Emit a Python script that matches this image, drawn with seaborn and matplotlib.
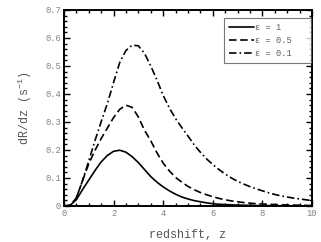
import numpy as np
import pandas as pd
import matplotlib
matplotlib.use("Agg")
import matplotlib.pyplot as plt
from matplotlib.ticker import MultipleLocator, FuncFormatter
import seaborn as sns

# redshift grid and dR/dz values
z = [0.0, 0.25, 0.5, 0.75, 1.0, 1.25, 1.5, 1.75, 2.0, 2.25, 2.5, 2.75, 3.0,
     3.25, 3.5, 3.75, 4.0, 4.25, 4.5, 4.75, 5.0, 5.25, 5.5, 5.75, 6.0, 6.25,
     6.5, 6.75, 7.0, 7.25, 7.5, 7.75, 8.0, 8.25, 8.5, 8.75, 9.0, 9.25, 9.5,
     9.75, 10.0]
rate_eps1 = [0.0, 0.002, 0.022, 0.058, 0.092, 0.126, 0.157, 0.18, 0.195,
             0.199, 0.192, 0.176, 0.155, 0.13, 0.105, 0.085, 0.068, 0.054,
             0.042, 0.032, 0.025, 0.019, 0.015, 0.011, 0.008, 0.006, 0.005,
             0.004, 0.003, 0.0025, 0.002, 0.0015, 0.0012, 0.001, 0.0008,
             0.0007, 0.0006, 0.0005, 0.0004, 0.0003, 0.0002]
rate_eps05 = [0.0, 0.002, 0.028, 0.09, 0.15, 0.198, 0.24, 0.278, 0.315,
              0.345, 0.36, 0.352, 0.318, 0.27, 0.233, 0.19, 0.153, 0.125,
              0.102, 0.085, 0.07, 0.058, 0.048, 0.04, 0.033, 0.027, 0.022,
              0.018, 0.015, 0.012, 0.01, 0.008, 0.007, 0.006, 0.005, 0.004,
              0.0035, 0.003, 0.0025, 0.002, 0.0015]
rate_eps01 = [0.0, 0.002, 0.028, 0.09, 0.16, 0.232, 0.3, 0.365, 0.44,
              0.512, 0.555, 0.574, 0.572, 0.545, 0.5, 0.45, 0.395, 0.35,
              0.312, 0.28, 0.25, 0.218, 0.192, 0.168, 0.148, 0.13, 0.114,
              0.1, 0.088, 0.078, 0.069, 0.061, 0.054, 0.047, 0.041, 0.036,
              0.032, 0.028, 0.025, 0.022, 0.019]
labels = ["ε = 1", "ε = 0.5", "ε = 0.1"]

df = pd.DataFrame({
    "z": z * 3,
    "rate": rate_eps1 + rate_eps05 + rate_eps01,
    "eps": [labels[0]] * len(z) + [labels[1]] * len(z) + [labels[2]] * len(z),
})

sns.set_style("ticks")
plt.rcParams['font.family'] = ['Liberation Mono', 'DejaVu Sans Mono']

fig = plt.figure(figsize=(3.21, 2.42), dpi=100)
ax = fig.add_axes([0.199, 0.149, 0.773, 0.81])

styles = ["-", (0, (4.5, 2.2)), (0, (4.5, 1.8, 1, 1.8))]
for lab, ls in zip(labels, styles):
    sub = df[df["eps"] == lab]
    sns.lineplot(data=sub, x="z", y="rate", ax=ax, color="black",
                 linestyle=ls, linewidth=1.2, label=lab)

ax.set_xlim(0, 10)
ax.set_ylim(0, 0.7)
ax.xaxis.set_major_locator(MultipleLocator(2))
ax.xaxis.set_minor_locator(MultipleLocator(0.5))
ax.yaxis.set_major_locator(MultipleLocator(0.1))
ax.yaxis.set_minor_locator(MultipleLocator(0.02))
ax.xaxis.set_major_formatter(FuncFormatter(lambda v, p: "0" if v == 0 else f"{v:g}"))
ax.yaxis.set_major_formatter(FuncFormatter(lambda v, p: "0" if abs(v) < 1e-9 else f"{v:.1f}"))

ax.tick_params(which="both", direction="in", top=True, right=True,
               colors="black", labelcolor="#808080", labelsize=6.3, width=1.0)
ax.tick_params(which="major", length=4, pad=2)
ax.tick_params(which="minor", length=2)
for s in ax.spines.values():
    s.set_linewidth(1.4)
    s.set_color("black")

ax.set_xlabel("redshift, z", fontsize=8.5, color="#555555", labelpad=8)
ax.set_ylabel("dR/dz (s$^{\\mathregular{-1}}$)", fontsize=8.5, color="#555555", labelpad=8)

# legend box stretched to the reference width, entries left-aligned
leg = ax.legend(loc="upper left", bbox_to_anchor=(0.645, 0.0, 0.352, 0.959),
                mode="expand", fontsize=6.3,
                frameon=True, fancybox=False, edgecolor="#555555",
                handlelength=2.8, handletextpad=0.15, borderpad=0.6,
                labelspacing=0.45, borderaxespad=0)
leg.get_frame().set_linewidth(0.8)
for t in leg.get_texts():
    t.set_color("#606060")

fig.savefig("out.png", dpi=100)
